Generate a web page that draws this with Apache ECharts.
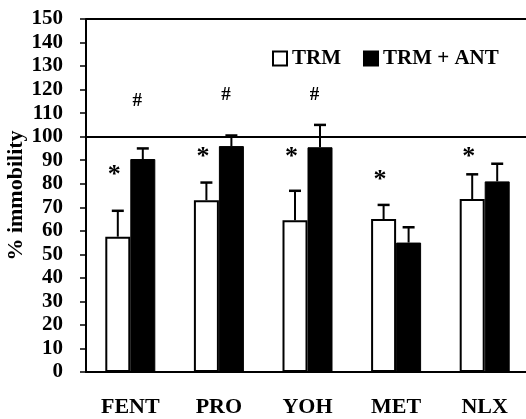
<!DOCTYPE html>
<html>
<head>
<meta charset="utf-8">
<script src="https://cdn.jsdelivr.net/npm/echarts@6/dist/echarts.min.js"></script>
<style>html,body{margin:0;padding:0;background:#fff}#c{width:526px;height:419px}</style>
</head>
<body>
<div id="c"></div>
<script>
const categories = ['FENT', 'PRO', 'YOH', 'MET', 'NLX'];
const trm = [57.5, 73, 64.5, 65, 73.5];
const trmErr = [11, 7.5, 12.5, 6, 10.5];
const trmAnt = [90.5, 96, 95.5, 55, 81];
const trmAntErr = [4.5, 4.5, 9.5, 6.5, 7.5];
const trmMark = ['*', '*', '*', '*', '*'];
const trmMarkY = [86, 94, 94, 84, 94];
const antMark = ['#', '#', '#', '', ''];
const antMarkY = [116, 118.5, 118.5, null, null];
const yTicks = [0, 10, 20, 30, 40, 50, 60, 70, 80, 90, 100, 110, 120, 130, 140, 150];

const FONT = '"Liberation Serif", "Times New Roman", serif';
const BARW = 25;

function errItem(vals, errs, side) {
  return function (params, api) {
    const i = params.dataIndex;
    const top = api.coord([i, vals[i] + errs[i]]);
    const base = api.coord([i, vals[i]]);
    const x = base[0] + side * BARW / 2;
    return {
      type: 'group',
      children: [
        { type: 'line', shape: { x1: x, y1: base[1], x2: x, y2: top[1] }, style: { stroke: '#000', lineWidth: 2 } },
        { type: 'line', shape: { x1: x - 6, y1: top[1], x2: x + 6, y2: top[1] }, style: { stroke: '#000', lineWidth: 2.5 } }
      ]
    };
  };
}
function markItem(marks, ys, dx, size, dy) {
  return function (params, api) {
    const i = params.dataIndex;
    if (!marks[i] || ys[i] == null) return null;
    const p = api.coord([i, ys[i]]);
    return {
      type: 'text',
      style: { text: marks[i], x: p[0] + dx, y: p[1] + dy, align: 'center', verticalAlign: 'middle',
        font: 'bold ' + size + 'px ' + FONT, fill: '#000' }
    };
  };
}

const chart = echarts.init(document.getElementById('c'));
chart.setOption({
  animation: false,
  backgroundColor: '#fff',
  grid: { left: 86, top: 19, width: 443, bottom: 47, containLabel: false, outerBoundsMode: 'none' },
  legend: {
    left: 267, top: 43, itemWidth: 14, itemHeight: 14, itemGap: 22,
    icon: 'rect',
    textStyle: { fontFamily: FONT, fontWeight: 'bold', fontSize: 21, color: '#000' },
    data: ['TRM', 'TRM + ANT']
  },
  xAxis: {
    type: 'category', data: categories,
    axisLine: { lineStyle: { color: '#000', width: 2 } },
    axisTick: { length: 5, lineStyle: { color: '#000', width: 1.5 } },
    axisLabel: { margin: 24, fontFamily: FONT, fontWeight: 'bold', fontSize: 22, color: '#000' }
  },
  yAxis: {
    type: 'value', min: 0, max: 150, interval: 10,
    name: '% immobility', nameLocation: 'middle', nameGap: 59, nameMoveOverlap: false,
    nameTextStyle: { fontFamily: FONT, fontWeight: 'bold', fontSize: 22, color: '#000' },
    axisLine: { show: true, lineStyle: { color: '#000', width: 2 } },
    axisTick: { show: true, length: 6, lineStyle: { color: '#000', width: 1.5 } },
    splitLine: { show: false },
    axisLabel: { margin: 23, fontFamily: FONT, fontWeight: 'bold', fontSize: 21, color: '#000',
      formatter: v => yTicks.includes(v) ? String(v) : '' }
  },
  series: [
    {
      name: 'TRM', type: 'bar', data: trm, barWidth: BARW, barGap: '0%',
      itemStyle: { color: '#fff', borderColor: '#000', borderWidth: 2 },
      markLine: {
        silent: true, symbol: 'none', label: { show: false },
        lineStyle: { color: '#000', width: 2, type: 'solid' },
        data: [{ yAxis: 100 }, { yAxis: 150 }]
      }
    },
    {
      name: 'TRM + ANT', type: 'bar', data: trmAnt, barWidth: BARW,
      itemStyle: { color: '#000', borderColor: '#000', borderWidth: 1 }
    },
    { type: 'custom', data: trm, renderItem: errItem(trm, trmErr, -1), z: 5 },
    { type: 'custom', data: trmAnt, renderItem: errItem(trmAnt, trmAntErr, 1), z: 5 },
    { type: 'custom', data: trmMarkY, renderItem: markItem(trmMark, trmMarkY, -16, 26, 6), z: 5 },
    { type: 'custom', data: antMarkY.map(v => v == null ? 0 : v), renderItem: markItem(antMark, antMarkY, 7, 19, 2), z: 5 }
  ]
});
</script>
</body>
</html>
